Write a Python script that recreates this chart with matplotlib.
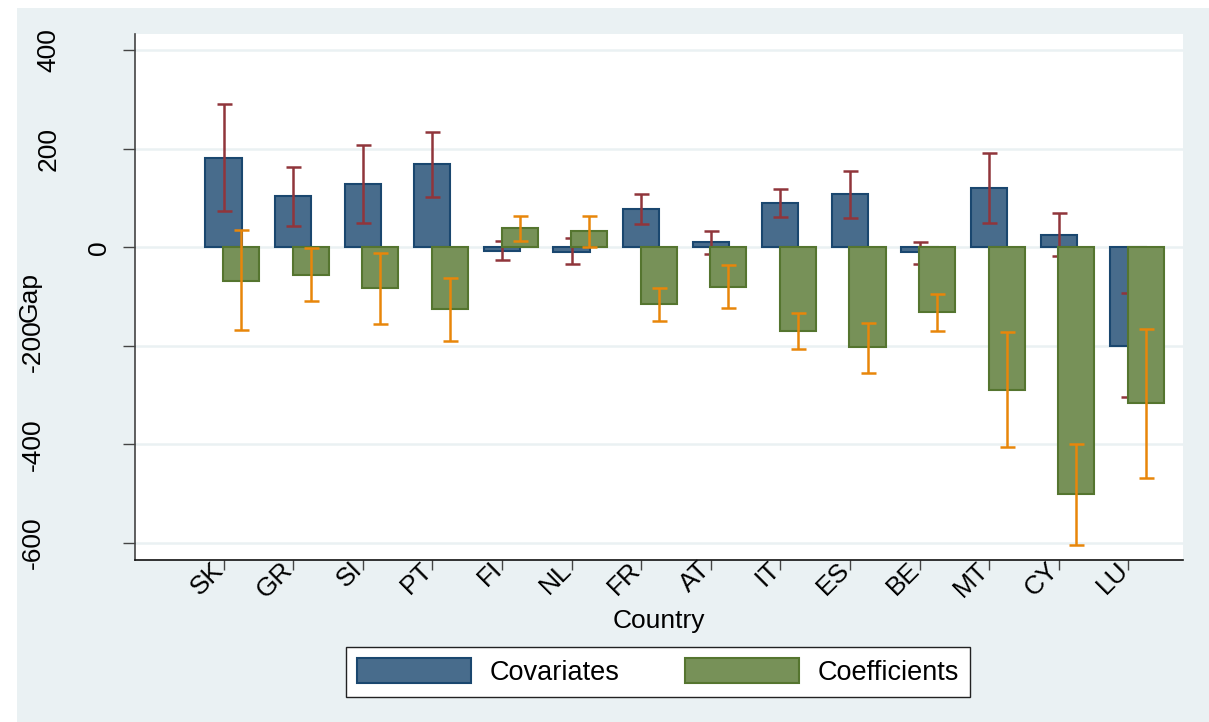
import matplotlib

matplotlib.use("Agg")
import matplotlib.pyplot as plt  # noqa: E402
import numpy as np  # noqa: E402
from matplotlib.patches import Rectangle  # noqa: E402
from matplotlib.transforms import ScaledTranslation  # noqa: E402

plt.rcParams["font.family"] = ["Liberation Sans", "DejaVu Sans"]

countries = ["SK", "GR", "SI", "PT", "FI", "NL", "FR", "AT", "IT", "ES", "BE", "MT", "CY", "LU"]

# explained part (covariates) with 95% bounds
covariates = [182, 104, 129, 170, -8, -9, 78, 10, 89, 108, -10, 121, 24, -200]
cov_lo = [74, 44, 50, 102, -26, -33, 47, -13, 61, 59, -34, 50, -18, -304]
cov_hi = [291, 163, 207, 235, 13, 18, 108, 33, 118, 155, 11, 192, 69, -92]

# unexplained part (coefficients) with 95% bounds
coefficients = [-68, -56, -83, -125, 39, 32, -115, -81, -170, -203, -132, -289, -501, -317]
coef_lo = [-169, -110, -155, -190, 12, 1, -150, -124, -206, -255, -171, -405, -604, -468]
coef_hi = [35, -2, -11, -62, 64, 64, -83, -36, -133, -153, -95, -172, -399, -165]

y_ticks = [400, 200, 0, -200, -400, -600]

# stata s2color look
NAVY = "#1A476F"
NAVY_FILL = "#486C8C"
FOREST = "#55752F"
FOREST_FILL = "#779158"
MAROON = "#90353B"
DKORANGE = "#E8860A"
REGION_BG = "#EAF1F3"
GRID = "#EAF1F3"

W, H, DPI = 1209, 722, 100
FS = 19
px = 72.0 / DPI  # points per pixel

fig = plt.figure(figsize=(W / DPI, H / DPI), dpi=DPI, facecolor="white")
fig.patches.append(Rectangle((17 / W, 0), 1 - 17 / W, 1 - 8 / H, transform=fig.transFigure,
                             facecolor=REGION_BG, edgecolor="none", zorder=-10))

left, right, top, bottom = 135, 1183, 34, 560
ax = fig.add_axes([left / W, 1 - bottom / H, (right - left) / W, (bottom - top) / H])
ax.set_facecolor("white")

x = np.arange(len(countries))
bar_w = 0.52
shift = 0.254

ax.bar(x, covariates, width=bar_w, color=NAVY_FILL, edgecolor=NAVY, linewidth=1.5,
       label="Covariates", zorder=2)
cov = np.array(covariates)
ax.errorbar(x, cov, yerr=[cov - np.array(cov_lo), np.array(cov_hi) - cov], fmt="none",
            ecolor=MAROON, elinewidth=1.8, capsize=5.4, capthick=1.8, zorder=3)
ax.bar(x + shift, coefficients, width=bar_w, color=FOREST_FILL, edgecolor=FOREST,
       linewidth=1.5, label="Coefficients", zorder=4)
coef = np.array(coefficients)
ax.errorbar(x + shift, coef, yerr=[coef - np.array(coef_lo), np.array(coef_hi) - coef],
            fmt="none", ecolor=DKORANGE, elinewidth=1.8, capsize=5.4, capthick=1.8, zorder=5)

ax.set_xlim(-1.272, 13.786)
ax.set_ylim(-635, 433)
ax.set_yticks(y_ticks)
ax.yaxis.grid(True, color=GRID, linewidth=1.8, zorder=0)
ax.set_axisbelow(True)

for side in ("top", "right"):
    ax.spines[side].set_visible(False)
ax.spines["left"].set_color("#444444")
ax.spines["left"].set_linewidth(1.2)
ax.spines["bottom"].set_color("#111111")
ax.spines["bottom"].set_linewidth(1.2)

ax.tick_params(axis="y", length=12 * px, width=1.0, color="#444444", labelleft=False)
ax.tick_params(axis="x", length=10 * px, width=1.0, color="#444444", pad=0)
ax.set_xticks(x)
ax.set_xticklabels(countries, rotation=45, ha="right", va="center", rotation_mode="anchor",
                   fontsize=FS)
# tuck the slanted names up against the tick, ending just left of it
nudge = ScaledTranslation(-4 / DPI, 4 / DPI, fig.dpi_scale_trans)
for lab in ax.get_xticklabels():
    lab.set_transform(lab.get_transform() + nudge)

# vertical y labels, pushed out by their horizontal width the way Stata does it
renderer = fig.canvas.get_renderer()


def text_width(s):
    t = fig.text(0, 0, s, fontsize=FS)
    w = t.get_window_extent(renderer).width
    t.remove()
    return w


w0 = text_width("0")
for v in y_ticks:
    s = f"{v}"
    off = 36 + 1.73 * (text_width(s) - w0)
    ax.annotate(s, xy=(0, v), xycoords=("axes fraction", "data"), xytext=(-off * px, 0),
                textcoords="offset points", rotation=90, ha="center", va="center",
                fontsize=FS, annotation_clip=False)

fig.text(30 / W, 1 - 297 / H, "Gap", rotation=90, ha="center", va="center", fontsize=FS)
fig.text(659 / W, 1 - 621 / H, "Country", ha="center", va="center", fontsize=FS)

leg = fig.legend(loc="center", bbox_to_anchor=(658 / W, 1 - 672 / H), ncol=2,
                 fontsize=19.5, frameon=True, fancybox=False, framealpha=1.0,
                 handlelength=4.2, handleheight=1.06, handletextpad=0.7,
                 columnspacing=2.4, borderpad=0.4, borderaxespad=0)
leg.get_frame().set_facecolor("white")
leg.get_frame().set_edgecolor("#222222")
leg.get_frame().set_linewidth(1.0)

fig.savefig("out.png", dpi=DPI, facecolor="white")
